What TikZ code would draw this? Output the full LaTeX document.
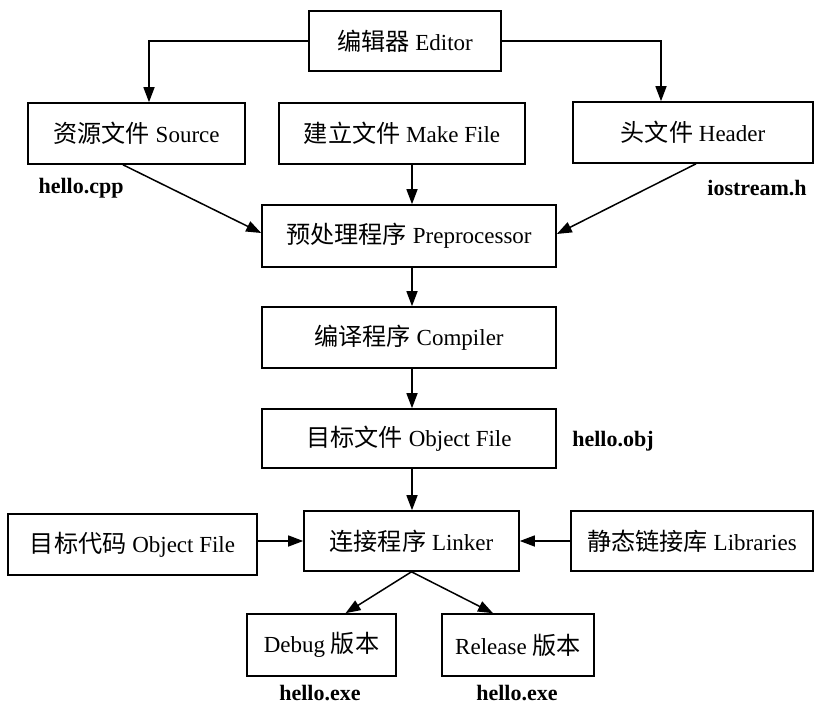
\documentclass[tikz,border=0pt]{standalone}
\usepackage{fontspec}
\setmainfont{Liberation Serif}
\newfontfamily\cjk[Scale=1.05]{Noto Sans CJK SC}
\usetikzlibrary{arrows.meta}
\begin{document}
\begin{tikzpicture}[x=1pt,y=-1pt,
  box/.style={draw, line width=1.6pt, inner sep=0pt, font=\fontsize{23}{27}\selectfont},
  lbl/.style={inner sep=0pt, font=\fontsize{22}{26}\selectfont\bfseries},
  arr/.style={line width=1.5pt, -{Triangle[length=15pt,width=11pt]}}]
\useasboundingbox (0,0) rectangle (815,707);
% boxes
\node[box, minimum width=192pt, minimum height=60pt] (editor) at (405,41) {{\cjk 编辑器} Editor};
\node[box, minimum width=217pt, minimum height=61pt] (source) at (136.5,133.5) {{\cjk 资源文件} Source};
\node[box, minimum width=246pt, minimum height=61pt] (make) at (402,133.5) {{\cjk 建立文件} Make File};
\node[box, minimum width=240pt, minimum height=61pt] (header) at (693,132.5) {{\cjk 头文件} Header};
\node[box, minimum width=294pt, minimum height=62pt] (pre) at (409,236) {{\cjk 预处理程序} Preprocessor};
\node[box, minimum width=294pt, minimum height=61pt] (comp) at (409,337.5) {{\cjk 编译程序} Compiler};
\node[box, minimum width=294pt, minimum height=59pt] (obj) at (409,438.5) {{\cjk 目标文件} Object File};
\node[box, minimum width=215pt, minimum height=60pt] (linker) at (411.5,541) {{\cjk 连接程序} Linker};
\node[box, minimum width=249pt, minimum height=61pt] (leftobj) at (132.5,544.5) {{\cjk 目标代码} Object File};
\node[box, minimum width=242pt, minimum height=60pt] (libs) at (692,541) {{\cjk 静态链接库} Libraries};
\node[box, minimum width=149pt, minimum height=62pt] (debug) at (321.5,645) {Debug {\cjk 版本}};
\node[box, minimum width=152pt, minimum height=62pt] (release) at (518,645) {Release {\cjk 版本}};
% labels
\node[lbl] (lcpp) at (81,188) {hello.cpp};
\node[lbl] (lh) at (757,188) {iostream.h};
\node[lbl] (lobj) at (613,441) {hello.obj};
\node[lbl] (lexe1) at (320,693) {hello.exe};
\node[lbl] (lexe2) at (517,693) {hello.exe};
% helper coordinates
\coordinate (eL) at (149,41);
\coordinate (eR) at (661,41);
\coordinate (spine) at (412,300);
% connectors
\draw[arr] (editor.west) -- (eL) -- (eL |- source.north);
\draw[arr] (editor.east) -- (eR) -- (eR |- header.north);
\draw[arr] ([xshift=-13.5pt]source.south) -- ([yshift=3pt]pre.west);
\draw[arr] ([xshift=3pt]header.south) -- ([yshift=2pt]pre.east);
\draw[arr] (make.south -| spine) -- (pre.north -| spine);
\draw[arr] (pre.south -| spine) -- (comp.north -| spine);
\draw[arr] (comp.south -| spine) -- (obj.north -| spine);
\draw[arr] (obj.south -| spine) -- (linker.north -| spine);
\draw[arr] (leftobj.east |- linker.west) -- (linker.west);
\draw[arr] (libs.west) -- (linker.east);
\draw[arr] (linker.south) -- ([xshift=24pt]debug.north);
\draw[arr] (linker.south) -- ([xshift=-25pt]release.north);
\end{tikzpicture}
\end{document}
